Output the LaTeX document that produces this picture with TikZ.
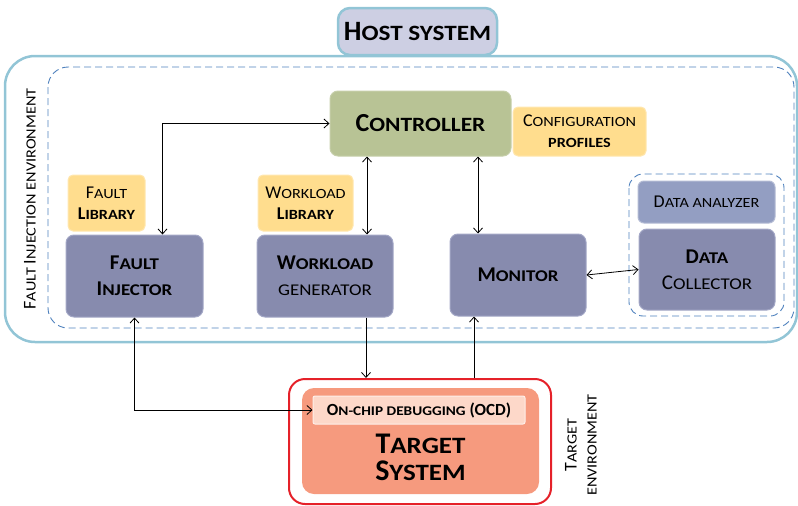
\documentclass[tikz,border=0pt]{standalone}
\usepackage{fontspec}
\setmainfont{Carlito}
\usetikzlibrary{arrows.meta,positioning}

\definecolor{hostfill}{HTML}{CDCFE3}
\definecolor{envline}{HTML}{92C5D6}
\definecolor{dashblue}{HTML}{4F81BD}
\definecolor{ctrlfill}{HTML}{B8C395}
\definecolor{libfill}{HTML}{FFDD8E}
\definecolor{blockfill}{HTML}{878BAE}
\definecolor{blockline}{HTML}{A3A7C6}
\definecolor{anafill}{HTML}{939EC2}
\definecolor{redline}{HTML}{E52129}
\definecolor{sysfill}{HTML}{F69A7E}
\definecolor{ocdfill}{HTML}{FDD8C9}

% fake small caps: first letter full size, the rest scaled down
\newcommand\allsc[1]{\scalebox{0.9}[0.78]{#1}}
\newcommand\smc[2]{#1\allsc{#2}}

\tikzset{
  block/.style={rounded corners=8pt, fill=blockfill, draw=blockline, line width=1pt,
    minimum width=137pt, minimum height=82pt, align=center,
    font=\fontsize{21}{26}\selectfont},
  libbox/.style={rounded corners=5pt, fill=libfill, draw=libfill!70!white, line width=1pt,
    minimum height=56pt, align=center, font=\fontsize{18}{21}\selectfont},
  envdash/.style={dashblue, dash pattern=on 7pt off 4pt, line width=0.9pt},
  link/.style={draw=black, line width=0.8pt},
  >={Straight Barb[length=5pt,width=9pt]}
}

\begin{document}
\begin{tikzpicture}[x=1pt, y=-1pt]
\useasboundingbox (0,0) rectangle (798,506);

% environments
\draw[envline, line width=2.5pt, rounded corners=30pt] (5,56) rectangle (797,342);
\draw[envdash, rounded corners=20pt] (48,67) rectangle (794,328);
\draw[envdash, rounded corners=14pt] (629,174) rectangle (784,316);
\node (fielabel) [rotate=90, font=\fontsize{18}{21}\selectfont] at (30,199)
  {\smc{F}{AULT} \smc{I}{NJECTION} \allsc{ENVIRONMENT}};

\node (host) [rounded corners=12pt, fill=hostfill, draw=envline, line width=2.5pt,
  minimum width=159pt, minimum height=47pt, font=\fontsize{28}{30}\selectfont\bfseries]
  at (417.5,31.5) {\smc{H}{OST SYSTEM}};

% host side
\node (ctrl) [rounded corners=8pt, fill=ctrlfill, draw=ctrlfill!80!white, line width=1pt,
  minimum width=181pt, minimum height=65pt, font=\fontsize{26}{30}\selectfont\bfseries]
  at (420.5,123.5) {\smc{C}{ONTROLLER}};
\node (conf) [libbox, minimum width=133pt, minimum height=49pt] at (579.5,131.5)
  {\smc{C}{ONFIGURATION}\\\allsc{\bfseries PROFILES}};
\node (flib) [libbox, minimum width=77pt] at (106.5,203) {\smc{F}{AULT}\\\bfseries\smc{L}{IBRARY}};
\node (wlib) [libbox, minimum width=95pt] at (305.5,203) {\smc{W}{ORKLOAD}\\\bfseries\smc{L}{IBRARY}};
\node (fi) [block, font=\fontsize{21}{26}\selectfont\bfseries] at (134.5,276) {\smc{F}{AULT}\\\smc{I}{NJECTOR}};
\node (wg) [block, minimum width=136pt] at (325,276) {\bfseries\smc{W}{ORKLOAD}\\\allsc{GENERATOR}};
\node (mon) [block, minimum width=136pt, font=\fontsize{21}{26}\selectfont\bfseries] at (518,275) {\smc{M}{ONITOR}};
\node (da) [rounded corners=6pt, fill=anafill, draw=anafill!70!white, line width=1pt,
  minimum width=137pt, minimum height=42pt, font=\fontsize{18}{21}\selectfont]
  at (706.5,202) {\smc{D}{ATA ANALYZER}};
\node (dc) [block, minimum width=136pt, minimum height=81pt] at (707,269.5) {\bfseries\smc{D}{ATA}\\\smc{C}{OLLECTOR}};

% target side
\node (tenv) [rounded corners=16pt, draw=redline, line width=2pt,
  minimum width=262pt, minimum height=125pt] at (420,441.5) {};
\node (tsys) [rounded corners=12pt, fill=sysfill, minimum width=237pt, minimum height=106pt] at (420.5,441) {};
\node (tsyslabel) [align=center, font=\fontsize{30}{27}\selectfont\bfseries] at (420.5,457)
  {\smc{T}{ARGET}\\\smc{S}{YSTEM}};
\node (ocd) [fill=ocdfill, draw=white!60!ocdfill, line width=1pt, rounded corners=2pt,
  minimum width=212pt, minimum height=28pt, font=\fontsize{17}{20}\selectfont\bfseries]
  at (419,410) {\smc{O}{N-CHIP DEBUGGING} (OCD)};
\node (telabel) [rotate=90, align=center, font=\fontsize{18}{20}\selectfont] at (581,445)
  {\smc{T}{ARGET}\\\allsc{ENVIRONMENT}};

% connectors
\coordinate (fitop) at ([xshift=28]fi.north);
\coordinate (wgtop) at ([xshift=42]wg.north);
\coordinate (wgbot) at ([xshift=41]wg.south);
\coordinate (montop) at ([xshift=-40]mon.north);
\coordinate (monbot) at ([xshift=-44]mon.south);
\draw[link, <->] (fitop) |- (ctrl.west);
\draw[link, <->] (wgtop) -- (wgtop |- ctrl.south);
\draw[link, <->] (montop) -- (montop |- ctrl.south);
\draw[link, <->] (mon.east) -- (dc.west);
\draw[link, ->] (wgbot) -- (wgbot |- tenv.north);
\draw[link, ->] (monbot |- tenv.north) -- (monbot);
\draw[link, <->] (fi.south) |- (ocd.west);
\end{tikzpicture}
\end{document}
